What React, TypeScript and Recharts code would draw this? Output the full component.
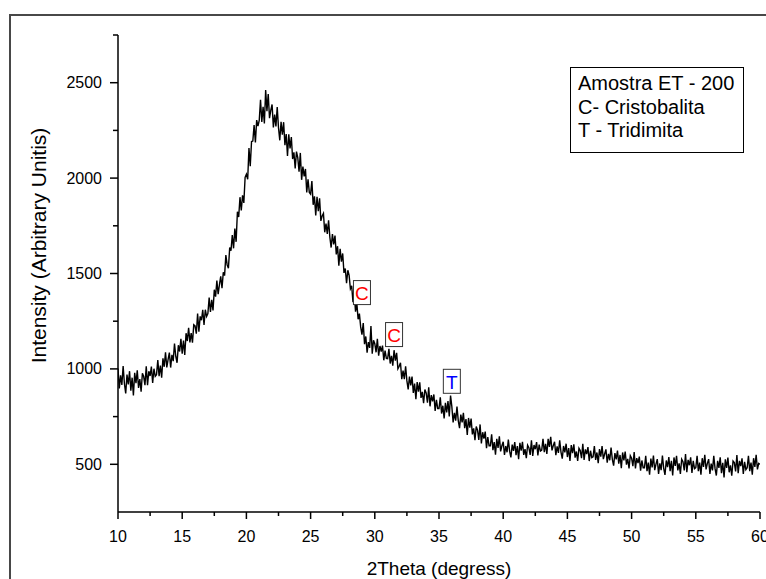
import React from "react";
import { LineChart, Line, XAxis, YAxis, ReferenceDot, Label } from "recharts";

const scanStart = 10;
const scanStep = 0.1;
const intensity: number[] = [
  1002, 897, 966, 916, 1015, 922, 871, 970, 919, 988,
  886, 954, 861, 979, 925, 993, 900, 947, 881, 977,
  960, 915, 1014, 914, 988, 963, 1012, 927, 1001, 961,
  970, 1046, 962, 1018, 954, 1055, 1011, 1087, 1008, 1049,
  1085, 1007, 1074, 1041, 1133, 1065, 1032, 1124, 1091, 1158,
  1080, 1149, 1073, 1187, 1146, 1215, 1139, 1188, 1137, 1231,
  1225, 1185, 1290, 1195, 1275, 1255, 1310, 1230, 1310, 1275,
  1290, 1374, 1298, 1362, 1306, 1415, 1379, 1463, 1392, 1441,
  1485, 1423, 1506, 1489, 1597, 1545, 1528, 1636, 1619, 1702,
  1632, 1736, 1666, 1824, 1796, 1900, 1830, 1910, 1870, 2004,
  2020, 1994, 2158, 2062, 2192, 2194, 2278, 2187, 2304, 2272,
  2302, 2410, 2294, 2374, 2286, 2462, 2351, 2441, 2314, 2355,
  2386, 2265, 2333, 2271, 2372, 2264, 2198, 2295, 2228, 2293,
  2172, 2231, 2116, 2229, 2156, 2215, 2100, 2135, 2050, 2139,
  2108, 2033, 2132, 1991, 2060, 2009, 2048, 1925, 1994, 1925,
  1916, 1984, 1860, 1904, 1804, 1902, 1826, 1894, 1776, 1802,
  1815, 1716, 1762, 1708, 1779, 1690, 1636, 1707, 1653, 1699,
  1600, 1643, 1541, 1629, 1562, 1605, 1503, 1526, 1449, 1517,
  1490, 1420, 1435, 1350, 1390, 1300, 1345, 1260, 1290, 1220,
  1180, 1240, 1130, 1170, 1085, 1140, 1110, 1225, 1080, 1150,
  1132, 1087, 1158, 1069, 1120, 1091, 1122, 1045, 1096, 1055,
  1054, 1105, 1028, 1068, 1017, 1098, 1043, 1084, 1001, 1014,
  1032, 946, 991, 946, 1014, 937, 892, 960, 914, 960,
  874, 923, 841, 931, 881, 930, 848, 880, 820, 892,
  874, 823, 904, 804, 863, 830, 866, 780, 838, 792,
  792, 851, 766, 807, 740, 822, 772, 832, 751, 860,
  802, 720, 770, 729, 802, 729, 689, 761, 720, 770,
  689, 737, 654, 743, 692, 740, 657, 688, 627, 698,
  679, 628, 709, 609, 668, 635, 671, 585, 643, 597,
  597, 657, 574, 616, 551, 634, 586, 647, 568, 597,
  618, 549, 596, 563, 630, 569, 536, 603, 570, 617,
  548, 596, 527, 612, 571, 618, 549, 580, 532, 600,
  587, 549, 626, 544, 601, 579, 616, 546, 603, 569,
  574, 633, 564, 607, 554, 633, 591, 644, 573, 598,
  618, 548, 594, 560, 626, 564, 530, 596, 562, 608,
  538, 585, 517, 601, 559, 605, 535, 567, 518, 584,
  572, 532, 607, 523, 578, 553, 590, 517, 571, 535,
  539, 595, 523, 562, 506, 580, 540, 595, 527, 554,
  578, 508, 555, 521, 588, 526, 493, 559, 526, 572,
  503, 549, 480, 562, 521, 567, 498, 528, 479, 545,
  532, 490, 564, 478, 532, 506, 540, 466, 520, 482,
  482, 545, 464, 509, 445, 530, 484, 546, 469, 501,
  527, 450, 505, 469, 546, 479, 444, 520, 485, 538,
  464, 518, 441, 536, 491, 545, 468, 505, 450, 527,
  514, 468, 554, 459, 523, 495, 536, 455, 518, 477,
  482, 545, 464, 509, 446, 532, 486, 550, 473, 505,
  527, 450, 504, 468, 545, 477, 441, 518, 481, 536,
  454, 508, 431, 526, 481, 535, 458, 495, 440, 517,
  509, 463, 549, 454, 518, 490, 531, 450, 513, 472,
  482, 545, 464, 509, 446, 532, 486, 550, 473, 505,
  500,
];

const xTicks = [10, 12.5, 15, 17.5, 20, 22.5, 25, 27.5, 30, 32.5, 35, 37.5, 40, 42.5, 45, 47.5, 50, 52.5, 55, 57.5, 60];
const xMajor = [10, 15, 20, 25, 30, 35, 40, 45, 50, 55, 60];
const yTicks = [500, 750, 1000, 1250, 1500, 1750, 2000, 2250, 2500, 2750];
const yMajor = [500, 1000, 1500, 2000, 2500];

const peakLabels = ["C", "C", "T"];
const peakAngles = [29.0, 31.5, 36.0];
const peakHeights = [1400, 1180, 935];
const peakColors = ["#ff0000", "#ff0000", "#0000ff"];

const legendLines = ["Amostra ET - 200", "C- Cristobalita", "T - Tridimita"];

const data = intensity.map((v, i) => ({ x: Math.round((scanStart + i * scanStep) * 10) / 10, y: v }));

const FONT = "'Liberation Sans', Arial, sans-serif";

const XTick = (props: any) => {
  const { x, y, payload } = props;
  const major = xMajor.includes(payload.value);
  return (
    <g>
      <line x1={x} y1={y} x2={x} y2={y + (major ? 7 : 4)} stroke="#000" strokeWidth={1.5} />
      {major && (
        <text x={x} y={y + 24} textAnchor="middle" dominantBaseline="central" fontSize={16} fontFamily={FONT} fill="#000">
          {payload.value}
        </text>
      )}
    </g>
  );
};

const YTick = (props: any) => {
  const { x, y, payload } = props;
  const major = yMajor.includes(payload.value);
  return (
    <g>
      <line x1={x - (major ? 8 : 5)} y1={y} x2={x} y2={y} stroke="#000" strokeWidth={1.5} />
      {major && (
        <text x={x - 16} y={y} textAnchor="end" dominantBaseline="central" fontSize={16} fontFamily={FONT} fill="#000">
          {payload.value}
        </text>
      )}
    </g>
  );
};

const YTitle = (props: any) => {
  const vb = props.viewBox || { x: 0, y: 35, width: 118, height: 477 };
  const cx = vb.x + 38;
  const cy = vb.y + vb.height / 2 - 28;
  return (
    <text x={cx} y={cy} transform={`rotate(-90 ${cx} ${cy})`} textAnchor="middle" dominantBaseline="central" fontSize={21} fontFamily={FONT} fill="#000">
      Intensity (Arbitrary Unitis)
    </text>
  );
};

const XTitle = (props: any) => {
  const vb = props.viewBox || { x: 118, y: 512, width: 642, height: 67 };
  const cx = vb.x + vb.width / 2;
  const cy = vb.y + 56;
  return (
    <text x={cx} y={cy} textAnchor="middle" dominantBaseline="central" fontSize={19} fontFamily={FONT} fill="#000">
      2Theta (degress)
    </text>
  );
};

const makePeakShape = (label: string, color: string) => (props: any) => {
  const { cx, cy } = props;
  return (
    <g>
      <rect x={cx - 8.5} y={cy - 12} width={17} height={24} fill="#fff" stroke="#333" strokeWidth={1} />
      <text x={cx} y={cy + 1} textAnchor="middle" dominantBaseline="central" fontSize={19} fontFamily={FONT} fill={color}>
        {label}
      </text>
    </g>
  );
};

export default function App() {
  return (
    <div style={{ position: "fixed", left: 0, top: 0, width: 766, height: 579, overflow: "hidden", background: "#fff" }}>
      <div
        style={{
          position: "absolute",
          left: 9,
          top: 14,
          width: 820,
          height: 640,
          border: "2px solid #484848",
          boxSizing: "border-box",
        }}
      />
      <div style={{ position: "absolute", left: 0, top: 0 }}>
        <LineChart width={766} height={579} data={data} margin={{ top: 35, right: 6, left: 0, bottom: 0 }}>
          <XAxis
            dataKey="x"
            type="number"
            domain={[10, 60]}
            ticks={xTicks}
            interval={0}
            allowDataOverflow
            tickLine={false}
            tickSize={0}
            tickMargin={0}
            tick={<XTick />}
            axisLine={{ stroke: "#000", strokeWidth: 1.5 }}
            height={67}
          >
            <Label content={<XTitle />} />
          </XAxis>
          <YAxis
            type="number"
            domain={[250, 2750]}
            ticks={yTicks}
            interval={0}
            allowDataOverflow
            tickLine={false}
            tickSize={0}
            tickMargin={0}
            tick={<YTick />}
            axisLine={{ stroke: "#000", strokeWidth: 1.5 }}
            width={118}
          >
            <Label content={<YTitle />} />
          </YAxis>
          <Line type="linear" dataKey="y" stroke="#000" strokeWidth={1.4} dot={false} isAnimationActive={false} />
          {peakLabels.map((lab, i) => (
            <ReferenceDot
              key={i}
              x={peakAngles[i]}
              y={peakHeights[i]}
              r={0}
              shape={makePeakShape(lab, peakColors[i])}
            />
          ))}
        </LineChart>
      </div>
      <div
        style={{
          position: "absolute",
          left: 570,
          top: 67,
          width: 174,
          height: 86,
          border: "1px solid #000",
          boxSizing: "border-box",
          background: "#fff",
          fontFamily: FONT,
          fontSize: 20,
          lineHeight: "23.5px",
          padding: "4px 0 0 7px",
          color: "#000",
        }}
      >
        {legendLines.map((l, i) => (
          <div key={i} style={{ whiteSpace: "nowrap" }}>{l}</div>
        ))}
      </div>
    </div>
  );
}
